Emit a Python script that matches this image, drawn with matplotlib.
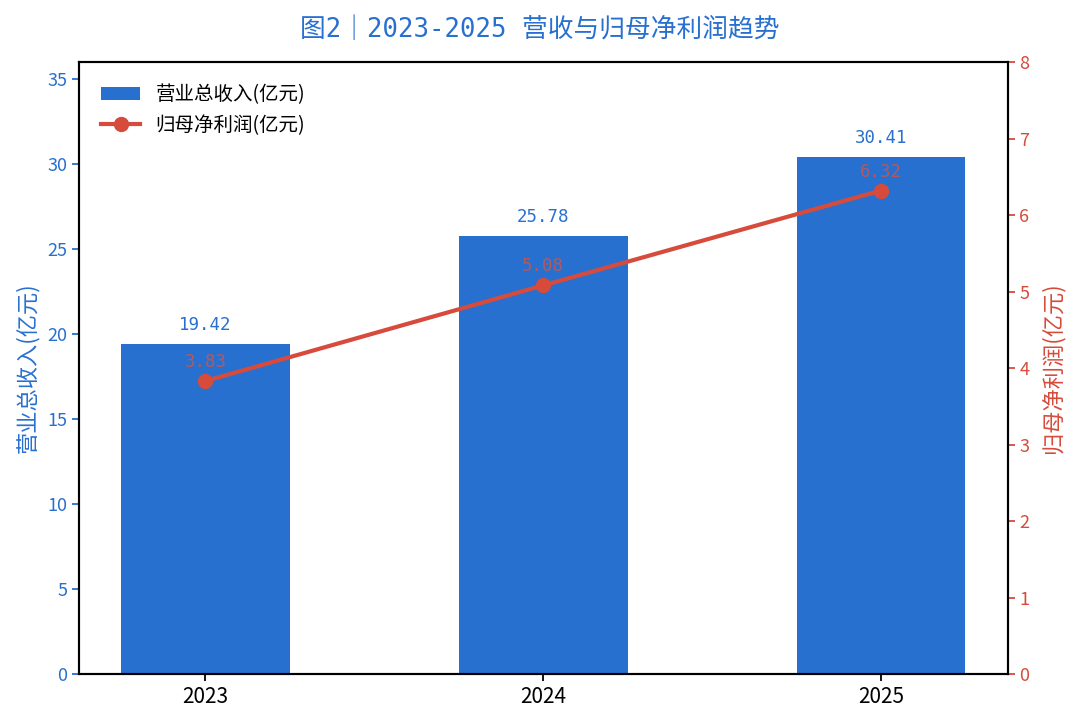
import matplotlib
matplotlib.use('Agg')
import matplotlib.pyplot as plt

plt.rcParams['font.family'] = ['Noto Sans CJK SC', 'DejaVu Sans']

years = ['2023', '2024', '2025']
revenue = [19.42, 25.78, 30.41]
profit = [3.83, 5.08, 6.32]

bar_color = '#2870D0'
line_color = '#D64B3B'
mono = ['DejaVu Sans Mono', 'Noto Sans CJK SC']

fig = plt.figure(figsize=(10.8, 7.26), dpi=100)
ax = fig.add_axes([0.073, 0.0716, 0.860, 0.843])
x = list(range(len(years)))

bars = ax.bar(x, revenue, width=0.5, color=bar_color, label='营业总收入(亿元)')
ax.set_ylim(0, 36)
ax.set_xticks(x)
ax.set_xticklabels(years, fontsize=15)
ax.tick_params(axis='y', colors=bar_color, labelsize=13)
ax.set_ylabel('营业总收入(亿元)', color=bar_color, fontsize=16, labelpad=6)
for xi, v in zip(x, revenue):
    ax.text(xi, v + 0.6, f'{v:.2f}', ha='center', va='bottom', color=bar_color,
            fontsize=12.5, family=mono)

ax2 = ax.twinx()
line, = ax2.plot(x, profit, color=line_color, linewidth=3, marker='o',
                 markersize=10, label='归母净利润(亿元)')
ax2.set_ylim(0, 8)
ax2.tick_params(axis='y', colors=line_color, labelsize=13)
ax2.set_ylabel('归母净利润(亿元)', color=line_color, fontsize=16, labelpad=8)
for xi, v in zip(x, profit):
    ax2.text(xi, v + 0.13, f'{v:.2f}', ha='center', va='bottom', color='#C9574B',
             alpha=0.85, fontsize=12.5, family=mono)

for spine in ax.spines.values():
    spine.set_linewidth(1.5)
for spine in ax2.spines.values():
    spine.set_linewidth(1.5)
ax.tick_params(width=1.3, length=5)
ax2.tick_params(width=1.3, length=5)

ax.legend([bars, line], ['营业总收入(亿元)', '归母净利润(亿元)'], loc='upper left',
          frameon=False, fontsize=14, borderaxespad=0.75, labelspacing=0.5)

fig.text(0.5, 0.959, '图2｜2023-2025 营收与归母净利润趋势', color=bar_color,
         fontsize=18.5, family=mono, ha='center', va='center')

fig.savefig('out.png', dpi=100)
